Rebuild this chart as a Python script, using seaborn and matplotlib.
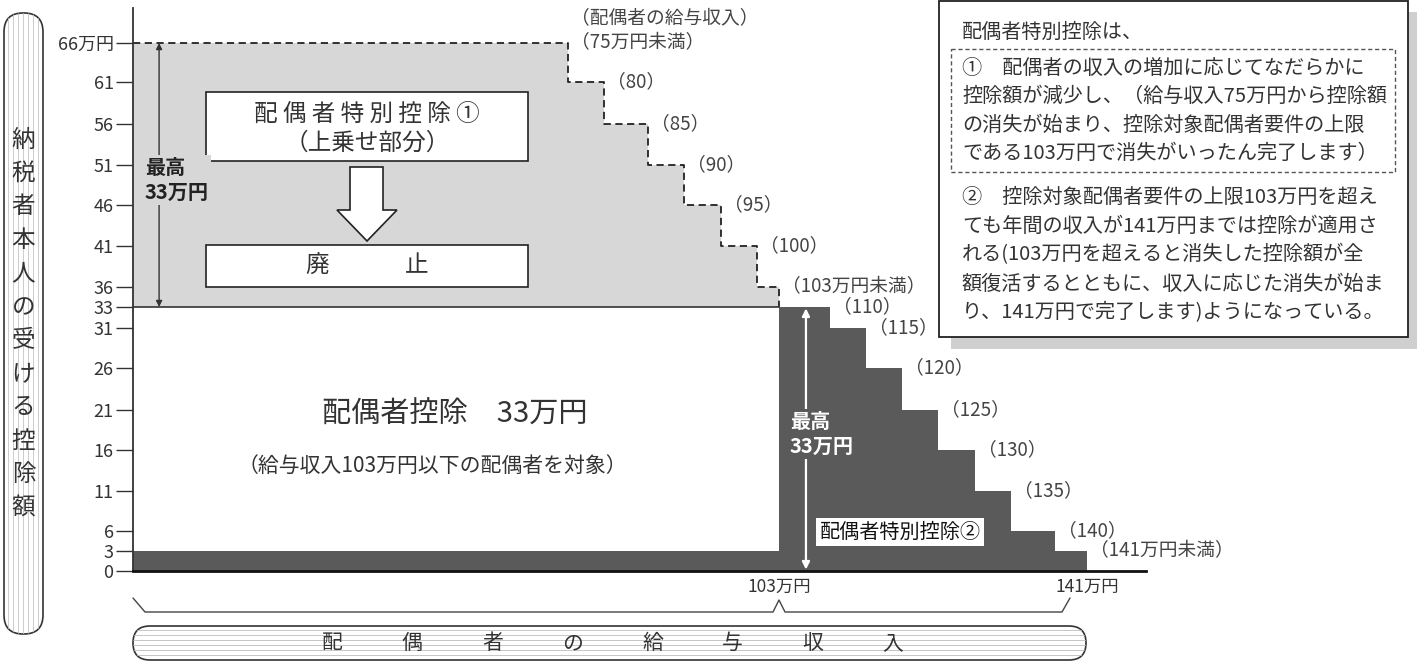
import numpy as np
import seaborn as sns
import matplotlib.pyplot as plt
from matplotlib.patches import Rectangle, FancyBboxPatch, Polygon

# 配偶者特別控除① (上乗せ部分): 配偶者の給与収入 (万円) と控除額 (万円)
income_1 = [0, 75, 80, 85, 90, 95, 100, 103]
deduct_1 = [66, 61, 56, 51, 46, 41, 36]
labels_1 = ["（75万円未満）", "（80）", "（85）", "（90）", "（95）", "（100）", "（103万円未満）"]

# 配偶者特別控除②
income_2 = [103, 110, 115, 120, 125, 130, 135, 140, 141]
deduct_2 = [33, 31, 26, 21, 16, 11, 6, 3]
labels_2 = ["（110）", "（115）", "（120）", "（125）", "（130）", "（135）", "（140）", "（141万円未満）"]

spouse_ded = 33      # 配偶者控除
strip_top = 3
income_limit = 103

y_ticks = [0, 3, 6, 11, 16, 21, 26, 31, 33, 36, 41, 46, 51, 56, 61, 66]
y_ticklabels = [str(v) for v in y_ticks[:-1]] + ["66万円"]
x_ticks = [103, 141]
x_ticklabels = ["103万円", "141万円"]

info_lines_top = ["配偶者特別控除は、"]
info_lines_1 = ["①　配偶者の収入の増加に応じてなだらかに",
                "控除額が減少し、（給与収入75万円から控除額",
                "の消失が始まり、控除対象配偶者要件の上限",
                "である103万円で消失がいったん完了します）"]
info_lines_2 = ["②　控除対象配偶者要件の上限103万円を超え",
                "ても年間の収入が141万円までは控除が適用さ",
                "れる(103万円を超えると消失した控除額が全",
                "額復活するとともに、収入に応じた消失が始ま",
                "り、141万円で完了します)ようになっている。"]

# the drawing is schematic: axes are piecewise linear (value -> pixel)
x_knots = [0, 75, 80, 85, 90, 95, 100, 103, 110, 115, 120, 125, 130, 135, 140, 141, 150]
x_pix = [133, 568, 604, 648, 684, 721, 757, 779, 830, 866, 902, 938, 975, 1011, 1055, 1087, 1146]
y_knots = [0, 3, 6, 11, 16, 21, 26, 31, 33, 36, 41, 46, 51, 56, 61, 66, 70]
y_pix = [571, 551, 531, 491, 450, 410, 368, 328, 307, 287, 246, 205, 165, 124, 82, 43, 8]

W, H = 1417, 663
TXT = "#333333"
LIGHT = "#d7d7d7"
DARK = "#5a5a5a"


def piecewise(v, p):
    v = np.asarray(v, float)
    p = np.asarray(p, float)

    def conv(x, a, b):
        x = np.asarray(x, float)
        out = np.interp(x, a, b)
        out = np.where(x < a[0], b[0] + (x - a[0]) * (b[1] - b[0]) / (a[1] - a[0]), out)
        out = np.where(x > a[-1], b[-1] + (x - a[-1]) * (b[-1] - b[-2]) / (a[-1] - a[-2]), out)
        return out

    return (lambda x: conv(x, v, p)), (lambda y: conv(y, p, v))


sns.set_theme(style="white")
plt.rcParams["font.family"] = ["Noto Sans CJK JP", "DejaVu Sans"]

fig = plt.figure(figsize=(W / 100, H / 100), dpi=100)
ax = fig.add_axes([x_pix[0] / W, (H - y_pix[0]) / H,
                   (x_pix[-1] - x_pix[0]) / W, (y_pix[0] - y_pix[-1]) / H])

ax.set_xscale("function", functions=piecewise(x_knots, x_pix))
ax.set_yscale("function", functions=piecewise(y_knots, [y_pix[0] - p for p in y_pix]))
ax.set_xlim(x_knots[0], x_knots[-1])
ax.set_ylim(y_knots[0], y_knots[-1])

# areas
ax.fill_between(income_1, spouse_ded, deduct_1 + deduct_1[-1:], step="post", color=LIGHT, lw=0)
ax.fill_between([0, income_limit], 0, strip_top, color=DARK, lw=0)
ax.fill_between(income_2, 0, deduct_2 + deduct_2[-1:], step="post", color=DARK, lw=0)
ax.hlines(spouse_ded, 0, income_limit, color=TXT, lw=1.2)

sns.lineplot(x=income_1, y=deduct_1 + [spouse_ded], drawstyle="steps-post", estimator=None,
             sort=False, color="#222222", lw=1.3, linestyle=(0, (4, 2.5)), ax=ax)

for x, y, lab in zip(income_1[1:], deduct_1, labels_1):
    ax.annotate(lab, (x, y), xytext=(2, 0), textcoords="offset points",
                ha="left", va="center", fontsize=13.5, color="#444444")
ax.annotate("（配偶者の給与収入）", (income_1[1], deduct_1[0]), xytext=(2, 18),
            textcoords="offset points", ha="left", va="center", fontsize=13.5, color="#444444")
for x, y, lab in zip(income_2[1:], deduct_2, labels_2):
    ax.annotate(lab, (x, y), xytext=(2, 0), textcoords="offset points",
                ha="left", va="center", fontsize=13.5, color="#444444")

# double arrows "最高33万円"
ax.annotate("", xy=(4.5, 66), xytext=(4.5, 33),
            arrowprops=dict(arrowstyle="<|-|>", color=TXT, lw=1, shrinkA=0, shrinkB=0,
                            mutation_scale=9))
ax.annotate("", xy=(106.7, 33), xytext=(106.7, 0),
            arrowprops=dict(arrowstyle="<|-|>", color="white", lw=1.6, shrinkA=1, shrinkB=1,
                            mutation_scale=11))

ax.set_yticks(y_ticks, y_ticklabels)
ax.set_xticks(x_ticks, x_ticklabels)
ax.tick_params(axis="y", length=12, width=1, color=TXT, labelsize=13, labelcolor=TXT, pad=2,
               left=True)
ax.tick_params(axis="x", length=0, labelsize=12.5, labelcolor=TXT, pad=5)
ax.minorticks_off()
sns.despine(ax=ax)
ax.spines["left"].set_color(TXT)
ax.spines["left"].set_linewidth(1.3)
ax.spines["bottom"].set_color("#111111")
ax.spines["bottom"].set_linewidth(2)
ax.grid(False)

# overlay in pixel units for the annotation boxes
ov = fig.add_axes([0, 0, 1, 1])
ov.set_xlim(0, W)
ov.set_ylim(H, 0)
ov.axis("off")
ov.patch.set_alpha(0)

ov.add_patch(Rectangle((206, 92), 322, 69, facecolor="white", edgecolor="#222222", lw=1.2))
ov.text(367, 114, "配 偶 者 特 別 控 除 ①", ha="center", va="center", fontsize=17, color=TXT)
ov.text(367, 143, "（上乗せ部分）", ha="center", va="center", fontsize=17, color=TXT)
ov.add_patch(Polygon([(350, 167), (383, 167), (383, 210), (397, 210), (367, 241),
                      (337, 210), (350, 210)], closed=True, facecolor="white",
                     edgecolor="#222222", lw=1.2))
ov.add_patch(Rectangle((206, 245), 322, 42, facecolor="white", edgecolor="#222222", lw=1.2))
ov.text(317, 266, "廃", ha="center", va="center", fontsize=17, color=TXT)
ov.text(417, 266, "止", ha="center", va="center", fontsize=17, color=TXT)

ov.text(145, 180, "最高\n33万円", ha="left", va="center", fontsize=14.5, weight="bold",
        color="#222222", linespacing=1.2,
        bbox=dict(boxstyle="square,pad=0.1", facecolor=LIGHT, edgecolor="none"))
ov.text(790, 434, "最高\n33万円", ha="left", va="center", fontsize=14.5, weight="bold",
        color="white", linespacing=1.2,
        bbox=dict(boxstyle="square,pad=0.1", facecolor=DARK, edgecolor="none"))
ov.text(900, 532, "配偶者特別控除②", ha="center", va="center", fontsize=14.5, color="#111111",
        bbox=dict(boxstyle="square,pad=0.15", facecolor="white", edgecolor="none"))

ov.text(455, 415, "配偶者控除　33万円", ha="center", va="center", fontsize=21, color=TXT)
ov.text(432, 466, "（給与収入103万円以下の配偶者を対象）", ha="center", va="center",
        fontsize=15, color=TXT)

# info box with shadow
ov.add_patch(Rectangle((951, 12), 466, 337, facecolor="#cfcfcf", edgecolor="none"))
ov.add_patch(Rectangle((939, 1), 469, 336, facecolor="white", edgecolor="#222222", lw=1.3))
ov.add_patch(Rectangle((951, 49), 444, 123, facecolor="none", edgecolor="#555555", lw=1,
                       linestyle=(0, (3, 2))))
ov.text(962, 32, info_lines_top[0], ha="left", va="center", fontsize=14.5, color=TXT)
for i, line in enumerate(info_lines_1):
    ov.text(962, 68 + 28.5 * i, line, ha="left", va="center", fontsize=14.5, color=TXT)
for i, line in enumerate(info_lines_2):
    ov.text(962, 197 + 29 * i, line, ha="left", va="center", fontsize=14.5, color=TXT)

# brace under the x axis
ov.plot([133, 145, 773, 779, 785, 1062, 1070], [598, 612, 612, 600, 612, 612, 598],
        color="#444444", lw=1)

# bottom label with horizontal hatching
bot = FancyBboxPatch((133, 626), 953, 34, boxstyle="round,pad=0,rounding_size=17",
                     facecolor="white", edgecolor="#333333", lw=1.2)
ov.add_patch(bot)
for yy in np.arange(630, 660, 5):
    ln, = ov.plot([133, 1086], [yy, yy], color="#bdbdbd", lw=0.6)
    ln.set_clip_path(bot)
for xx, ch in zip(np.linspace(332, 893, 8), "配偶者の給与収入"):
    ov.text(xx, 643, ch, ha="center", va="center", fontsize=15, color=TXT)

# left vertical label with vertical hatching
side = FancyBboxPatch((4, 13), 39, 621, boxstyle="round,pad=0,rounding_size=19",
                      facecolor="white", edgecolor="#333333", lw=1.2)
ov.add_patch(side)
for xx in np.arange(8, 43, 5):
    ln, = ov.plot([xx, xx], [13, 634], color="#c4c4c4", lw=0.6)
    ln.set_clip_path(side)
for yy, ch in zip(np.linspace(140, 508, 12), "納税者本人の受ける控除額"):
    ov.text(23.5, yy, ch, ha="center", va="center", fontsize=17, color=TXT)

fig.savefig("out.png", dpi=100)
